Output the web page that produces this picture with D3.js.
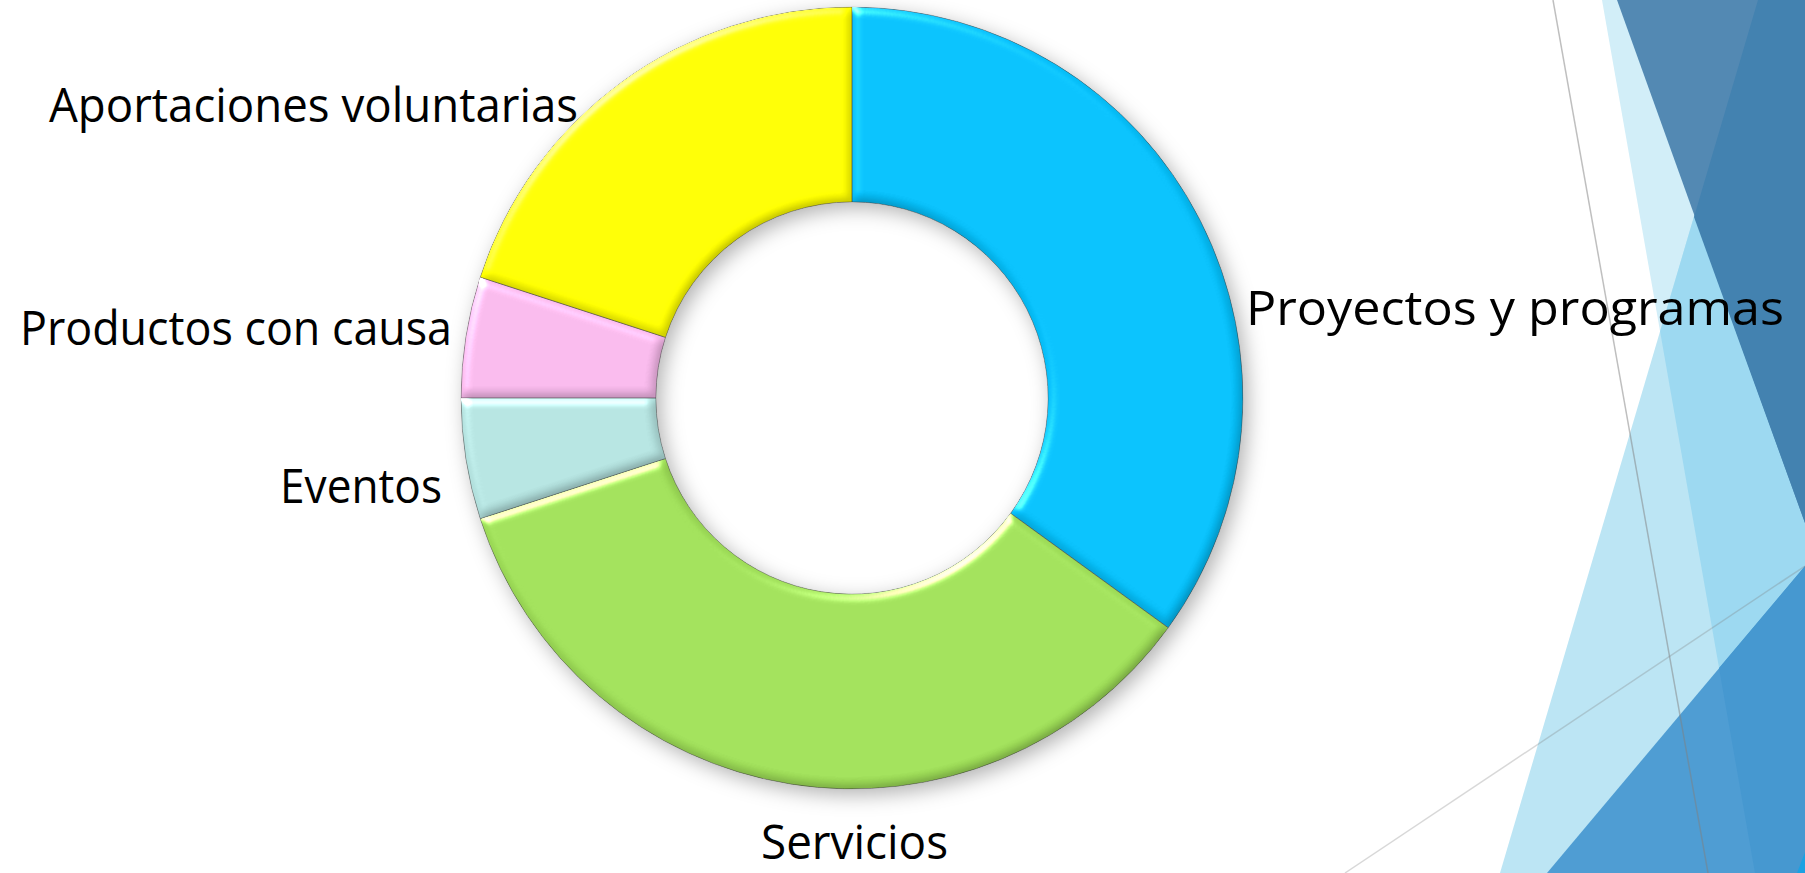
<!DOCTYPE html>
<html>
<head>
<meta charset="utf-8">
<script src="https://cdn.jsdelivr.net/npm/d3@7"></script>
<style>
  html, body { margin: 0; padding: 0; background: #ffffff; }
  svg { display: block; }
  .label { font-family: "Open Sans", "DejaVu Sans", sans-serif; fill: #000000; }
</style>
</head>
<body>
<div id="chart"></div>
<script>
// data (percent of the ring)
var categories = ["Proyectos y programas", "Servicios", "Eventos", "Productos con causa", "Aportaciones voluntarias"];
var values = [35, 35, 5, 5, 20];
var sliceColors = ["#04bcf6", "#9cdb56", "#b0dedb", "#f2b4e6", "#ffff00"];

// label placement (labels were placed by hand in the original slide)
var labelLeft = [1246, 761, 280, 20, 49];
var labelBaseline = [325, 859, 503, 345, 122];
var labelWidth = [538, 187, 162, 432, 529];

var width = 1805, height = 873;
var center = {x: 852, y: 398};
var outerRadius = 391, innerRadius = 196;

var svg = d3.select("#chart").append("svg")
    .attr("width", width)
    .attr("height", height);

var defs = svg.append("defs");

// soft drop shadow
var shadow = defs.append("filter").attr("id", "shadow")
    .attr("x", "-20%").attr("y", "-20%").attr("width", "140%").attr("height", "140%");
shadow.append("feGaussianBlur").attr("in", "SourceAlpha").attr("stdDeviation", 10).attr("result", "b");
shadow.append("feOffset").attr("in", "b").attr("dx", 5).attr("dy", 6).attr("result", "o");
shadow.append("feFlood").attr("flood-color", "#000").attr("flood-opacity", 0.3).attr("result", "c");
shadow.append("feComposite").attr("in", "c").attr("in2", "o").attr("operator", "in");

// soft bevel on each slice
var bevel = defs.append("filter").attr("id", "bevel")
    .attr("color-interpolation-filters", "sRGB")
    .attr("x", "-5%").attr("y", "-5%").attr("width", "110%").attr("height", "110%");
bevel.append("feGaussianBlur").attr("in", "SourceAlpha").attr("stdDeviation", 5).attr("result", "blur");
bevel.append("feDiffuseLighting").attr("in", "blur").attr("surfaceScale", 2)
    .attr("diffuseConstant", 1.103).attr("lighting-color", "#fff").attr("result", "diff")
    .append("feDistantLight").attr("azimuth", 235).attr("elevation", 65);
bevel.append("feComposite").attr("in", "SourceGraphic").attr("in2", "diff")
    .attr("operator", "arithmetic").attr("k1", 1).attr("k2", 0).attr("k3", 0).attr("k4", 0).attr("result", "shaded");
bevel.append("feSpecularLighting").attr("in", "blur").attr("surfaceScale", 4)
    .attr("specularConstant", 0.6).attr("specularExponent", 25).attr("lighting-color", "#fff").attr("result", "spec")
    .append("feDistantLight").attr("azimuth", 235).attr("elevation", 35);
bevel.append("feComposite").attr("in", "spec").attr("in2", "SourceAlpha").attr("operator", "in").attr("result", "specIn");
bevel.append("feComposite").attr("in", "shaded").attr("in2", "specIn")
    .attr("operator", "arithmetic").attr("k1", 0).attr("k2", 1).attr("k3", 1).attr("k4", 0).attr("result", "lit");
bevel.append("feComposite").attr("in", "lit").attr("in2", "SourceAlpha").attr("operator", "in");

/* slide background shapes (Facet theme) */
var bg = svg.append("g").attr("class", "background");
var shapes = [
    {pts: [[1602, 0], [1805, 0], [1805, 873], [1755, 873]], fill: "#d2eef8"},
    {pts: [[1758, 0], [1805, 0], [1805, 873], [1500, 873]], fill: "#bce5f4"},
    {pts: [[1758, 0], [1805, 0], [1805, 873], [1755, 873], [1602, 0]], fill: "#9dd9f1", clipQ: true},
    {pts: [[1617, 0], [1805, 0], [1805, 523]], fill: "#5389b3"},
    {pts: [[1758, 0], [1805, 0], [1805, 523], [1694, 217]], fill: "#4382b0"},
    {pts: [[1805, 566], [1805, 873], [1547, 873]], fill: "#4f9dd3"},
    {pts: [[1805, 566], [1805, 873], [1755, 873], [1719, 668]], fill: "#4698d0"},
    {pts: [[1797, 873], [1805, 873], [1805, 852]], fill: "#1ba1e2"}
];
// overlap of the two light bands: right of both edges
defs.append("clipPath").attr("id", "clipQ")
    .append("polygon").attr("points", "1758,0 1805,0 1805,873 1500,873");
shapes.forEach(function(s) {
    bg.append("polygon")
        .attr("points", s.pts.map(function(p) { return p.join(","); }).join(" "))
        .attr("fill", s.fill)
        .attr("clip-path", s.clipQ ? "url(#clipQ)" : null);
});
bg.append("line")
    .attr("x1", 1553).attr("y1", 0).attr("x2", 1708).attr("y2", 873)
    .attr("stroke", "#7f7f7f").attr("stroke-opacity", 0.5).attr("stroke-width", 1.5);
bg.append("line")
    .attr("x1", 1345).attr("y1", 873).attr("x2", 1805).attr("y2", 566)
    .attr("stroke", "#7f7f7f").attr("stroke-opacity", 0.3).attr("stroke-width", 1.5);

/* Doughnut */
var pie = d3.pie().sort(null).value(function(d) { return d; });
var arcs = pie(values);
var arc = d3.arc().innerRadius(innerRadius).outerRadius(outerRadius);

var chartGroup = svg.append("g")
    .attr("transform", "translate(" + center.x + "," + center.y + ")");

chartGroup.append("g")
    .attr("filter", "url(#shadow)")
    .selectAll("path").data(arcs)
    .enter().append("path")
    .attr("d", arc)
    .attr("fill", "#000");

chartGroup.append("g")
    .selectAll("path").data(arcs)
    .enter().append("path")
    .attr("d", arc)
    .attr("fill", function(d, i) { return sliceColors[i]; })
    .attr("stroke", "#404040")
    .attr("stroke-opacity", 0.6)
    .attr("stroke-width", 1)
    .attr("filter", "url(#bevel)");

/* Labels */
svg.append("g")
    .selectAll("text").data(categories)
    .enter().append("text")
    .attr("class", "label")
    .attr("x", function(d, i) { return labelLeft[i]; })
    .attr("y", function(d, i) { return labelBaseline[i]; })
    .attr("font-size", 48)
    .attr("textLength", function(d, i) { return labelWidth[i]; })
    .attr("lengthAdjust", "spacingAndGlyphs")
    .text(function(d) { return d; });
</script>
</body>
</html>
